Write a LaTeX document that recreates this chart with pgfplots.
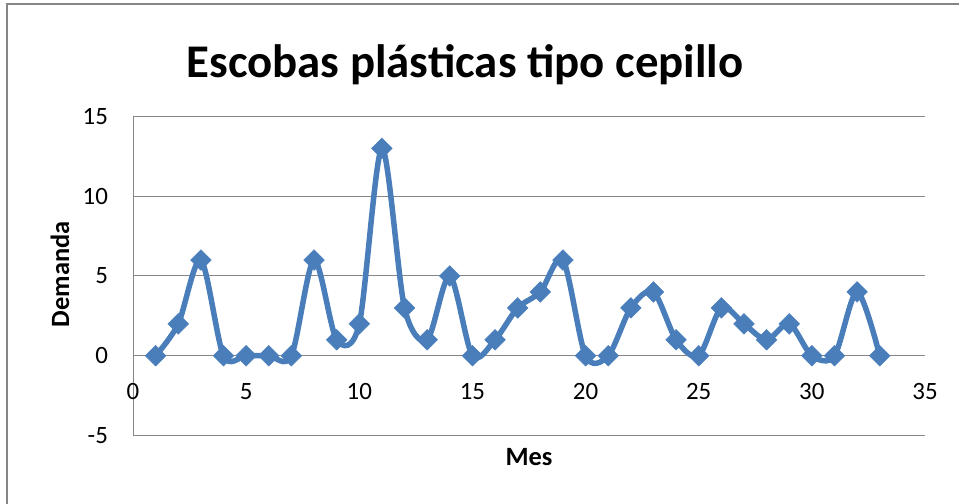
\documentclass[border=0pt]{standalone}
\usepackage{fontspec}
\setmainfont{Carlito}
\usepackage{pgfplots}
\pgfplotsset{compat=1.18}
\definecolor{serie}{HTML}{4A7EBB}
\definecolor{gridgray}{HTML}{868686}
\begin{document}
\begin{tikzpicture}[x=1bp,y=1bp]
\path[use as bounding box] (0,0) rectangle (959,504);
\clip (0,0) rectangle (959,504);
\draw[gridgray, line width=1.5bp] (7,-10) -- (7,500) -- (970,500);
\node[font=\bfseries\fontsize{47}{54}\selectfont, anchor=base] at (465,426) {Escobas plásticas tipo cepillo};
\begin{axis}[
  at={(133bp,68.5bp)}, anchor=south west, scale only axis,
  width=792bp, height=319bp,
  xmin=0, xmax=35, ymin=-5, ymax=15,
  axis x line=middle, axis y line=left,
  axis line style={gridgray, line width=1bp, -},
  hide obscured x ticks=false, hide obscured y ticks=false,
  xtick={0,5,...,35}, ytick={-5,0,...,15},
  ymajorgrids, grid style={gridgray, line width=1bp},
  major tick length=0pt,
  tick label style={font=\fontsize{25}{30}\selectfont},
  /pgf/number format/assume math mode=true,
  xticklabel style={anchor=center, yshift=-36bp},
  yticklabel style={anchor=east, xshift=-21.5bp},
  clip=false,
]
\addplot[serie, line width=5.5bp, smooth, tension=0.5,
  mark=square*, mark size=7.3bp, mark options={rotate=45, solid, fill=serie, draw=serie, line width=0.5bp}]
coordinates {
(1,0) (2,2) (3,6) (4,0) (5,0) (6,0) (7,0) (8,6) (9,1) (10,2) (11,13)
(12,3) (13,1) (14,5) (15,0) (16,1) (17,3) (18,4) (19,6) (20,0) (21,0)
(22,3) (23,4) (24,1) (25,0) (26,3) (27,2) (28,1) (29,2) (30,0) (31,0)
(32,4) (33,0)
};
\node[font=\bfseries\fontsize{26.5}{30}\selectfont, rotate=90, anchor=center] at (axis cs:-3.23,5.1) {Demanda};
\node[font=\bfseries\fontsize{26.5}{30}\selectfont, anchor=center] at (axis cs:17.5,-6.38) {Mes};
\end{axis}
\end{tikzpicture}
\end{document}
